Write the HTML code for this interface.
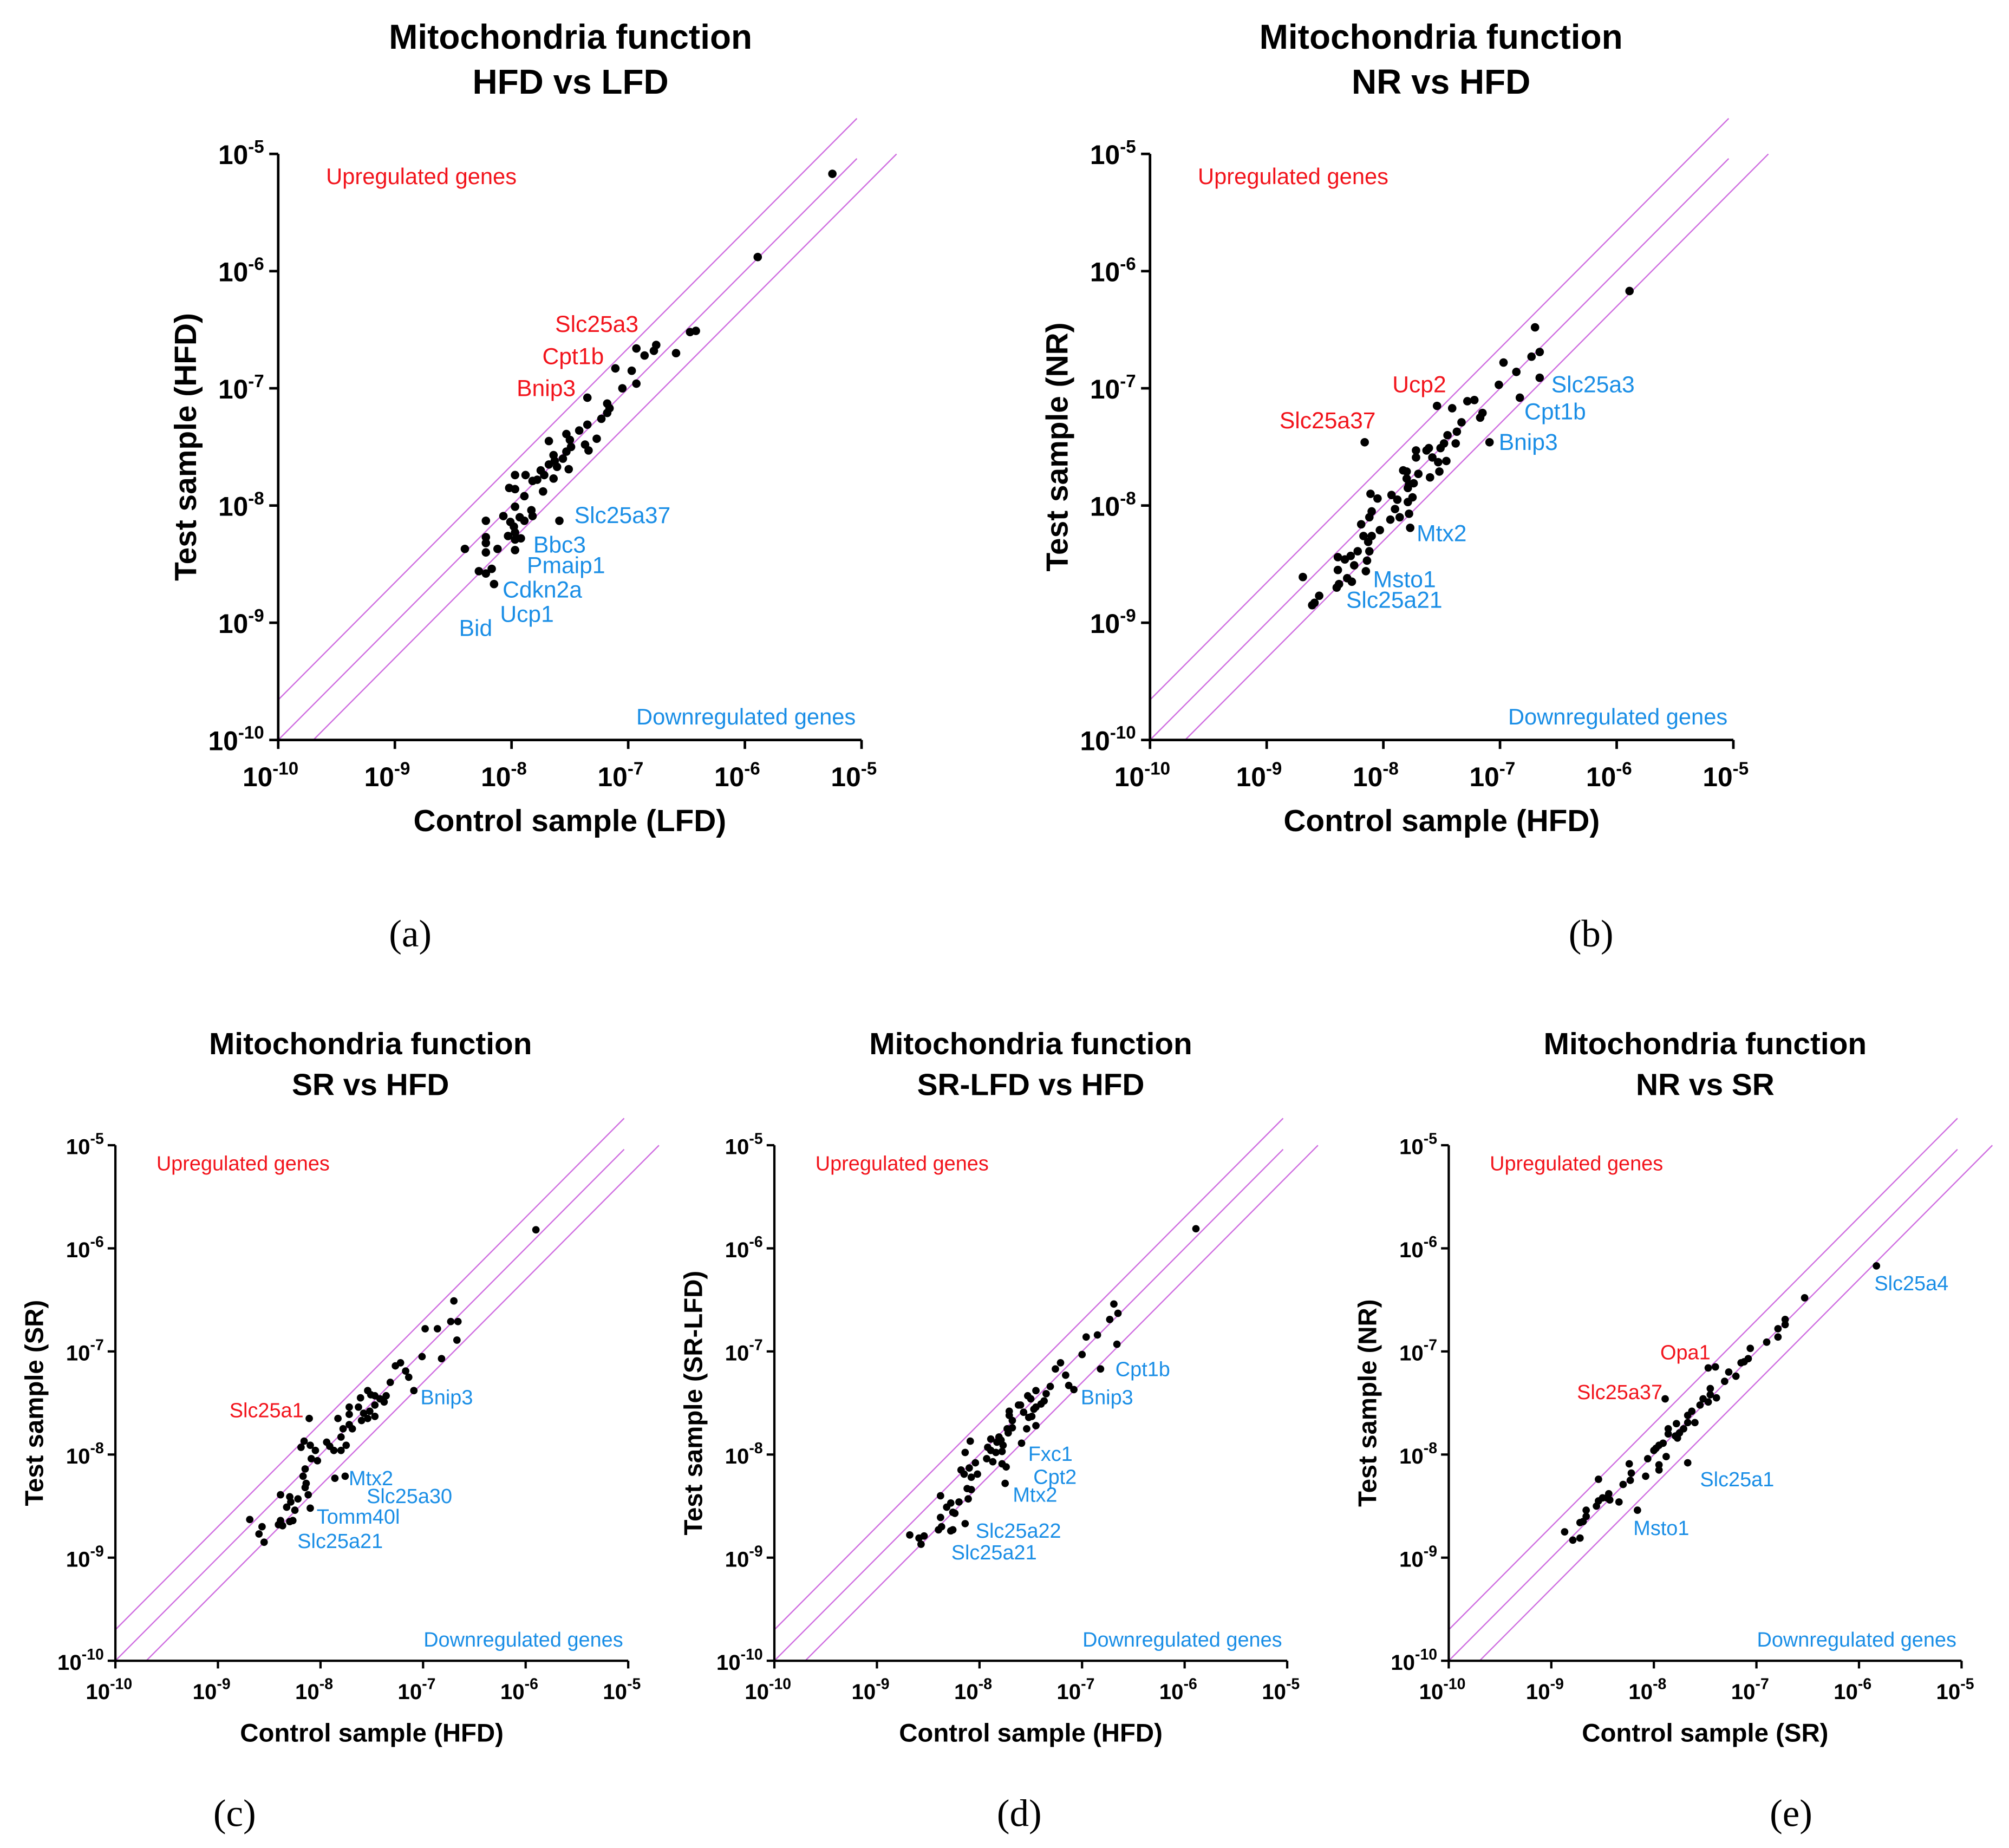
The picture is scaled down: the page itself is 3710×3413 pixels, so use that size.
<!DOCTYPE html>
<html><head><meta charset="utf-8">
<style>
html,body{margin:0;padding:0;background:#fff;}
svg{display:block;font-family:"Liberation Sans",Arial,sans-serif;}
</style></head>
<body>
<svg id="fig" width="3710" height="3413" viewBox="0 0 1567 1441" preserveAspectRatio="none" xmlns="http://www.w3.org/2000/svg"></svg>
<script>
// Values are log10(expression / 1e-10), i.e. decades above 1e-10
const aX=[4.75,4.11,3.53,3.58,3.07,3.24,3.22,3.14,3.41,2.89,3.03,3.07,2.95,2.65,2.82,2.84,2.82,2.77,2.65,2.58,2.47,2.73,2.50,2.63,2.66,2.32,2.51,2.47,2.36,2.37,2.44,2.32,2.39,2.49,2.25,2.28,2.36,2.22,2.18,2.12,2.03,2.27,1.98,2.03,2.11,2.03,1.93,2.07,2.17,2.18,2.11,1.78,1.99,2.02,2.03,1.97,2.08,2.03,1.78,1.78,1.78,1.88,2.03,1.60,1.72,1.78,1.83,1.85,2.41];
const aY=[4.83,4.12,3.48,3.49,3.34,3.37,3.32,3.28,3.30,3.17,3.15,3.04,3.00,2.92,2.87,2.83,2.79,2.74,2.69,2.64,2.61,2.57,2.56,2.52,2.47,2.55,2.50,2.46,2.43,2.38,2.40,2.35,2.33,2.31,2.30,2.26,2.23,2.22,2.21,2.26,2.26,2.12,2.15,2.14,2.08,1.99,1.91,1.90,1.96,1.91,1.87,1.87,1.86,1.82,1.77,1.74,1.72,1.71,1.73,1.68,1.60,1.63,1.62,1.63,1.44,1.42,1.46,1.33,1.87];
const bX=[4.11,3.30,3.27,3.34,3.03,3.14,3.34,2.99,3.17,2.72,2.78,2.46,2.59,2.85,2.83,2.67,2.63,2.55,2.62,2.52,2.49,2.91,2.28,2.37,2.39,2.28,2.42,2.47,2.54,2.17,2.20,2.30,2.40,2.48,2.20,2.22,2.26,2.21,1.89,1.95,2.07,2.12,2.21,2.25,2.10,1.90,1.88,2.06,2.14,2.22,1.81,1.97,1.83,1.87,1.90,2.23,1.78,1.88,1.61,1.67,1.72,1.75,1.86,1.61,1.85,1.69,1.73,1.31,1.60,1.62,1.45,1.41,1.39,1.84];
const bY=[3.83,3.52,3.27,3.31,3.22,3.14,3.09,3.03,2.92,2.89,2.90,2.85,2.83,2.79,2.75,2.71,2.63,2.60,2.53,2.53,2.49,2.54,2.47,2.47,2.49,2.41,2.41,2.37,2.38,2.30,2.29,2.27,2.24,2.29,2.23,2.18,2.19,2.15,2.10,2.06,2.09,2.05,2.03,2.07,1.97,1.95,1.90,1.88,1.90,1.93,1.84,1.79,1.74,1.69,1.74,1.81,1.61,1.61,1.56,1.54,1.57,1.49,1.53,1.45,1.44,1.38,1.35,1.39,1.30,1.33,1.23,1.17,1.15,2.54];
const cX=[4.10,3.30,3.02,3.14,3.27,3.34,3.33,2.99,3.18,2.73,2.78,2.83,2.86,2.68,2.91,2.46,2.49,2.53,2.39,2.64,2.58,2.62,2.28,2.37,2.53,2.48,2.42,2.28,2.53,2.46,2.17,2.40,2.28,2.22,2.31,2.20,2.25,1.84,1.90,2.06,2.09,2.13,2.20,1.81,1.95,1.91,1.97,1.89,1.85,1.83,1.86,1.85,2.14,2.24,1.61,1.70,1.78,1.88,1.71,1.67,1.75,1.90,1.61,1.59,1.63,1.70,1.73,1.31,1.43,1.40,1.45];
const cY=[4.18,3.49,3.22,3.22,3.29,3.29,3.11,2.95,2.93,2.86,2.89,2.81,2.75,2.70,2.62,2.62,2.58,2.57,2.55,2.57,2.54,2.51,2.46,2.46,2.48,2.42,2.40,2.39,2.37,2.35,2.35,2.33,2.29,2.25,2.25,2.17,2.09,2.13,2.09,2.12,2.08,2.04,2.04,2.07,2.04,1.96,1.94,2.35,1.86,1.79,1.72,1.68,1.77,1.79,1.61,1.59,1.57,1.61,1.54,1.49,1.46,1.48,1.36,1.32,1.31,1.35,1.36,1.37,1.30,1.23,1.15];
const dX=[4.11,3.31,3.35,3.27,3.04,3.15,3.34,3.00,2.79,2.74,2.84,3.18,2.87,2.92,2.69,2.55,2.65,2.47,2.50,2.63,2.60,2.55,2.53,2.38,2.40,2.43,2.29,2.29,2.51,2.48,2.32,2.32,2.27,2.28,2.46,2.55,2.11,2.19,2.21,2.23,2.17,2.08,2.11,2.16,2.22,2.41,1.91,1.86,2.07,2.13,1.96,2.22,2.26,1.82,1.90,1.85,1.92,1.98,2.25,1.88,1.92,1.89,1.62,1.68,1.72,1.76,1.80,1.74,1.62,1.63,1.60,1.72,1.74,1.86,1.32,1.41,1.46,1.43];
const dY=[4.19,3.46,3.37,3.31,3.14,3.16,3.07,2.97,2.89,2.83,2.77,2.83,2.67,2.63,2.66,2.62,2.59,2.57,2.54,2.52,2.49,2.46,2.44,2.48,2.48,2.41,2.42,2.38,2.37,2.36,2.33,2.26,2.25,2.21,2.25,2.28,2.15,2.17,2.14,2.09,2.12,2.07,2.04,2.02,2.03,2.11,2.13,2.02,1.96,1.93,1.92,1.91,1.88,1.85,1.87,1.81,1.78,1.81,1.72,1.67,1.66,1.57,1.60,1.49,1.53,1.43,1.54,1.44,1.39,1.30,1.27,1.26,1.27,1.33,1.22,1.19,1.21,1.13];
const eX=[4.17,3.47,3.28,3.28,3.21,3.21,3.10,2.94,2.92,2.85,2.88,2.53,2.60,2.73,2.80,2.69,2.11,2.55,2.55,2.61,2.53,2.48,2.45,2.37,2.33,2.33,2.40,2.22,2.29,2.25,2.21,2.23,2.14,2.14,2.09,2.05,2.02,2.00,2.12,1.94,2.05,2.05,1.92,2.33,1.76,1.78,1.77,1.70,1.46,1.66,1.56,1.54,1.50,1.46,1.44,1.57,1.34,1.34,1.31,1.28,1.84,1.13,1.21,1.28];
const eY=[3.83,3.52,3.31,3.26,3.22,3.14,3.09,3.03,2.93,2.89,2.90,2.84,2.85,2.80,2.76,2.71,2.54,2.64,2.58,2.55,2.51,2.54,2.48,2.42,2.38,2.31,2.31,2.30,2.25,2.21,2.18,2.16,2.25,2.20,2.11,2.09,2.06,2.04,1.98,1.96,1.90,1.85,1.79,1.92,1.91,1.82,1.75,1.71,1.76,1.54,1.62,1.58,1.58,1.55,1.50,1.56,1.46,1.40,1.35,1.34,1.46,1.25,1.17,1.19];
const tickExps=["-10","-9","-8","-7","-6","-5"];

const NS="http://www.w3.org/2000/svg";
const svg=document.getElementById('fig');
function mk(tag,attrs,parent){const e=document.createElementNS(NS,tag);for(const k in attrs)e.setAttribute(k,attrs[k]);(parent||svg).appendChild(e);return e;}

const panels=[
 {id:'a',x0:217,y0:577,dx:91,dy:91.4,X:aX,Y:aY,big:true,tl2:'HFD vs LFD',tcx:445,xt:'Control sample (LFD)',yt:'Test sample (HFD)',ytx:145,letter:'(a)',lx:320,ly:738,up:2.2,
  labels:[['Slc25a3',433,253,'r'],['Cpt1b',423,278,'r'],['Bnip3',403,303,'r'],['Slc25a37',448,402,'b'],['Bbc3',416,425,'b'],['Pmaip1',411,441,'b'],['Cdkn2a',392,460,'b'],['Ucp1',390,479,'b'],['Bid',358,490,'b']]},
 {id:'b',x0:897,y0:577,dx:91,dy:91.4,X:bX,Y:bY,big:true,tl2:'NR vs HFD',tcx:1124,xt:'Control sample (HFD)',yt:'Test sample (NR)',ytx:825,letter:'(b)',lx:1241,ly:738,up:2.2,
  labels:[['Ucp2',1086,300,'r'],['Slc25a37',998,328,'r'],['Slc25a3',1210,300,'b'],['Cpt1b',1189,321,'b'],['Bnip3',1169,345,'b'],['Mtx2',1105,416,'b'],['Msto1',1071,452,'b'],['Slc25a21',1050,468,'b']]},
 {id:'c',x0:90,y0:1295,dx:80,dy:80.4,X:cX,Y:cY,big:false,tl2:'SR vs HFD',tcx:289,xt:'Control sample (HFD)',yt:'Test sample (SR)',ytx:27,letter:'(c)',lx:183,ly:1424,up:2,
  labels:[['Slc25a1',179,1100,'r'],['Bnip3',328,1090,'b'],['Mtx2',272,1153,'b'],['Slc25a30',286,1167,'b'],['Tomm40l',247,1183,'b'],['Slc25a21',232,1202,'b']]},
 {id:'d',x0:604,y0:1295,dx:80,dy:80.4,X:dX,Y:dY,big:false,tl2:'SR-LFD vs HFD',tcx:804,xt:'Control sample (HFD)',yt:'Test sample (SR-LFD)',ytx:541,letter:'(d)',lx:795,ly:1424,up:2,
  labels:[['Cpt1b',870,1068,'b'],['Bnip3',843,1090,'b'],['Fxc1',802,1134,'b'],['Cpt2',806,1152,'b'],['Mtx2',790,1166,'b'],['Slc25a22',761,1194,'b'],['Slc25a21',742,1211,'b']]},
 {id:'e',x0:1130,y0:1295,dx:80,dy:80.4,X:eX,Y:eY,big:false,tl2:'NR vs SR',tcx:1330,xt:'Control sample (SR)',yt:'Test sample (NR)',ytx:1067,letter:'(e)',lx:1397,ly:1424,up:2,
  labels:[['Slc25a4',1462,1001,'b'],['Opa1',1295,1055,'r'],['Slc25a37',1230,1086,'r'],['Slc25a1',1326,1154,'b'],['Msto1',1274,1192,'b']]}
];

panels.forEach(p=>{
  const g=mk('g',{});
  
  
  const sx=v=>p.x0+v*p.dx, sy=v=>p.y0-v*p.dy;
  const B=p.big;
  const tfs=B?27:24, tickfs=B?21:17, supfs=B?14:12, axfs=B?24:20, genefs=B?18:16;
  const titleY1=B?38:822, titleY2=B?73:854;
  let t=mk('text',{x:p.tcx,y:titleY1,'text-anchor':'middle','font-size':tfs,'font-weight':'bold',fill:'#000'},g);
  t.textContent='Mitochondria function';
  
  
  t=mk('text',{x:p.tcx,y:titleY2,'text-anchor':'middle','font-size':tfs,'font-weight':'bold',fill:'#000'},g);
  t.textContent=p.tl2;
  
  
  const lu=Math.log10(p.up), ld=Math.log10(2);
  const lines=[[0,lu,4.96],[0,0,4.96],[ld,0,5.3]];
  lines.forEach((L,i)=>{
    const x1=L[0], y1=L[1], x2=L[2], y2=L[2]-L[0]+L[1];
    const ln=mk('line',{x1:sx(x1),y1:sy(y1),x2:sx(x2),y2:sy(y2),stroke:'#cf6ee0','stroke-width':1},g);
    
    
  });
  const aw=B?2:1.8;
  let ax=mk('line',{x1:sx(0),y1:sy(0),x2:sx(5),y2:sy(0),stroke:'#000','stroke-width':aw},g);
  
  
  ax=mk('line',{x1:sx(0),y1:sy(0),x2:sx(0),y2:sy(5),stroke:'#000','stroke-width':aw},g);
  
  
  const tl=B?7:6;
  tickExps.forEach((ex,i)=>{
    let tk=mk('line',{x1:sx(i),y1:sy(0),x2:sx(i),y2:sy(0)+tl,stroke:'#000','stroke-width':aw},g);
    
    
    tk=mk('line',{x1:sx(0),y1:sy(i),x2:sx(0)-tl,y2:sy(i),stroke:'#000','stroke-width':aw},g);
    
    
    let xl=mk('text',{x:sx(i)-(B?6:5),y:sy(0)+(B?36:30),'text-anchor':'middle','font-size':tickfs,'font-weight':'bold',fill:'#000'},g);
    
    
    xl.appendChild(document.createTextNode('10'));
    let sp=mk('tspan',{'font-size':supfs,dy:-(B?9:8)},xl); sp.textContent=ex;
    let yl=mk('text',{x:sx(0)-tl-(B?4:3),y:sy(i)+(B?8:7),'text-anchor':'end','font-size':tickfs,'font-weight':'bold',fill:'#000'},g);
    
    
    yl.appendChild(document.createTextNode('10'));
    sp=mk('tspan',{'font-size':supfs,dy:-(B?9:8)},yl); sp.textContent=ex;
  });
  t=mk('text',{x:sx(2.5),y:B?648:1358,'text-anchor':'middle','font-size':axfs,'font-weight':'bold',fill:'#000'},g);
  t.textContent=p.xt;
  
  
  const ycy=sy(2.5);
  t=mk('text',{x:p.ytx,y:ycy,'text-anchor':'middle','font-size':axfs,'font-weight':'bold',fill:'#000',transform:`rotate(-90 ${p.ytx} ${ycy})`,'dominant-baseline':'central'},g);
  t.textContent=p.yt;
  
  
  const rfs=B?17.6:16;
  t=mk('text',{x:sx(B?0.41:0.4),y:sy(B?4.81:4.82),'font-size':rfs,fill:'#f2141c','dominant-baseline':'central'},g);
  t.textContent='Upregulated genes';
  
  
  t=mk('text',{x:sx(4.95),y:sy(0.2),'text-anchor':'end','font-size':rfs,fill:'#1a8ee6','dominant-baseline':'central'},g);
  t.textContent='Downregulated genes';
  
  
  const r=B?3.3:2.9;
  p.X.forEach((v,i)=>{
    const c=mk('circle',{cx:sx(v),cy:sy(p.Y[i]),r:r,fill:'#000'},g);
    
    
  });
  p.labels.forEach(L=>{
    const tx=mk('text',{x:L[1],y:L[2],'font-size':genefs,fill:L[3]=='r'?'#f2141c':'#1a8ee6','dominant-baseline':'central'},g);
    tx.textContent=L[0];
    
    
  });
  t=mk('text',{x:p.lx,y:p.ly,'text-anchor':'middle','font-size':30,fill:'#000','font-family':'"Liberation Serif",serif'},g);
  t.textContent=p.letter;
  
  
});
</script>
</body></html>
